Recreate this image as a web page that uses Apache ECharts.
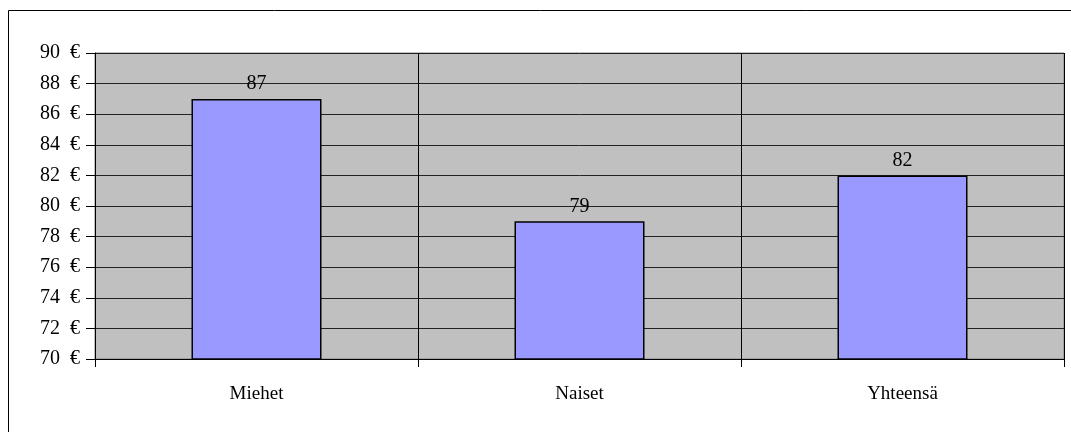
<!DOCTYPE html>
<html lang="fi">
<head>
  <meta charset="UTF-8">
  <title>Keskiarvo</title>
  <style>
    * { margin: 0; padding: 0; box-sizing: border-box; }
    body { background: #fff; }
    #chart { width: 1071px; height: 432px; }
  </style>
</head>
<body>
  <div id="chart"></div>
  <script src="https://cdn.jsdelivr.net/npm/echarts@6/dist/echarts.min.js"></script>
  <script>
    const categories = ['Miehet', 'Naiset', 'Yhteensä']
    const values = [87, 79, 82]
    const yMin = 70
    const yMax = 90
    const yStep = 2

    const font = '"Liberation Serif", "Times New Roman", serif'
    const chart = echarts.init(document.getElementById('chart'))

    chart.setOption({
      animation: false,
      textStyle: { fontFamily: font },
      // outer frame of the chart
      graphic: [{
        type: 'rect',
        shape: { x: 8.5, y: 10.5, width: 1100, height: 500 },
        style: { fill: 'none', stroke: '#000', lineWidth: 1 },
        silent: true
      }],
      grid: {
        left: 95, top: 53, right: 7, bottom: 73,
        show: true,
        backgroundColor: '#C0C0C0',
        borderColor: '#808080',
        borderWidth: 1
      },
      xAxis: {
        type: 'category',
        data: categories,
        axisLine: { lineStyle: { color: '#000', width: 1 } },
        axisTick: { show: true, length: 8, lineStyle: { color: '#000' } },
        axisLabel: { color: '#000', fontSize: 19, fontFamily: font, margin: 26 },
        splitLine: { show: true, lineStyle: { color: '#000', width: 1 } }
      },
      yAxis: {
        type: 'value',
        min: yMin,
        max: yMax,
        interval: yStep,
        axisLine: { show: true, lineStyle: { color: '#000', width: 1 } },
        axisTick: { show: true, length: 9, lineStyle: { color: '#000' } },
        axisLabel: {
          color: '#000', fontSize: 20, fontFamily: font, margin: 15,
          formatter: v => v + '\u2002€'
        },
        splitLine: { show: true, lineStyle: { color: '#222', width: 1 } }
      },
      series: [{
        type: 'bar',
        data: values,
        barWidth: 130,
        itemStyle: { color: '#9999FF', borderColor: '#000', borderWidth: 1.5 },
        label: {
          show: true, position: 'top', distance: 5,
          color: '#000', fontSize: 20, fontFamily: font
        }
      }]
    })
  </script>
</body>
</html>
